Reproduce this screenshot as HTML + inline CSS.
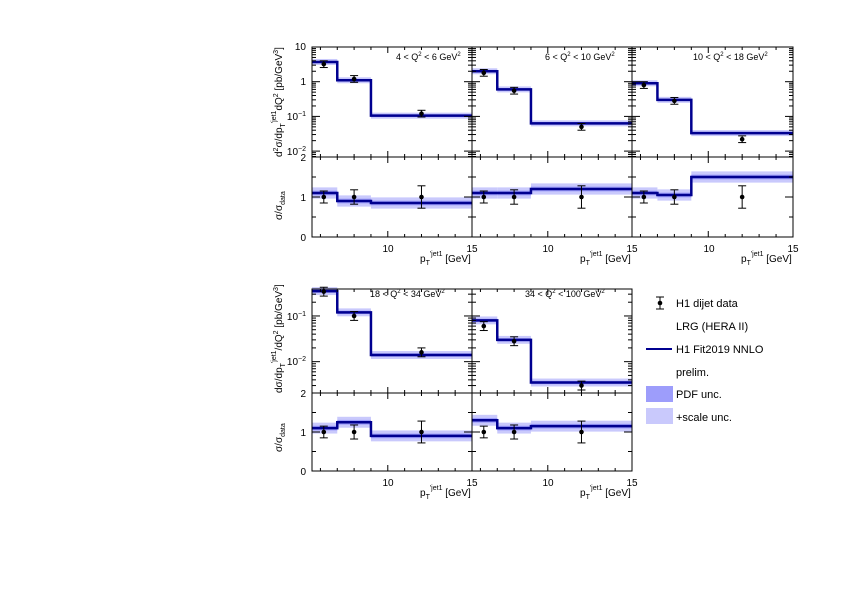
<!DOCTYPE html>
<html><head><meta charset="utf-8"><style>
body{margin:0;background:#fff;}
svg{display:block;font-family:"Liberation Sans",sans-serif;}
text{fill:#000;}
</style></head><body>
<svg id="s" width="842" height="595" viewBox="0 0 842 595" xmlns="http://www.w3.org/2000/svg">
<g id="g"></g>
<g font-size="10">
<!-- top row tick labels -->
<text x="306" y="50" text-anchor="end">10</text>
<text x="306" y="85" text-anchor="end">1</text>
<text x="306" y="120" text-anchor="end">10<tspan dy="-4" font-size="7">−1</tspan></text>
<text x="306" y="155" text-anchor="end">10<tspan dy="-4" font-size="7">−2</tspan></text>
<text x="306" y="161" text-anchor="end">2</text>
<text x="306" y="201" text-anchor="end">1</text>
<text x="306" y="241" text-anchor="end">0</text>
<text x="388" y="252" text-anchor="middle">10</text>
<text x="472" y="252" text-anchor="middle">15</text>
<text x="548" y="252" text-anchor="middle">10</text>
<text x="632" y="252" text-anchor="middle">15</text>
<text x="709" y="252" text-anchor="middle">10</text>
<text x="793" y="252" text-anchor="middle">15</text>
<!-- bottom row -->
<text x="306" y="320" text-anchor="end">10<tspan dy="-4" font-size="7">−1</tspan></text>
<text x="306" y="365" text-anchor="end">10<tspan dy="-4" font-size="7">−2</tspan></text>
<text x="306" y="397" text-anchor="end">2</text>
<text x="306" y="436" text-anchor="end">1</text>
<text x="306" y="475" text-anchor="end">0</text>
<text x="388" y="486" text-anchor="middle">10</text>
<text x="472" y="486" text-anchor="middle">15</text>
<text x="548" y="486" text-anchor="middle">10</text>
<text x="632" y="486" text-anchor="middle">15</text>
</g>
<g font-size="9">
<text x="396" y="60">4 &lt; Q<tspan dy="-4" font-size="6">2</tspan><tspan dy="4"> &lt; 6 GeV</tspan><tspan dy="-4" font-size="6">2</tspan></text>
<text x="545" y="60">6 &lt; Q<tspan dy="-4" font-size="6">2</tspan><tspan dy="4"> &lt; 10 GeV</tspan><tspan dy="-4" font-size="6">2</tspan></text>
<text x="693" y="60">10 &lt; Q<tspan dy="-4" font-size="6">2</tspan><tspan dy="4"> &lt; 18 GeV</tspan><tspan dy="-4" font-size="6">2</tspan></text>
<text x="370" y="297">18 &lt; Q<tspan dy="-4" font-size="6">2</tspan><tspan dy="4"> &lt; 34 GeV</tspan><tspan dy="-4" font-size="6">2</tspan></text>
<text x="525" y="297">34 &lt; Q<tspan dy="-4" font-size="6">2</tspan><tspan dy="4"> &lt; 100 GeV</tspan><tspan dy="-4" font-size="6">2</tspan></text>
</g>
<g font-size="10">
<text x="420" y="262">p<tspan dy="3" font-size="7">T</tspan><tspan dy="-9" font-size="7">'jet1</tspan><tspan dy="6"> [GeV]</tspan></text>
<text x="580" y="262">p<tspan dy="3" font-size="7">T</tspan><tspan dy="-9" font-size="7">'jet1</tspan><tspan dy="6"> [GeV]</tspan></text>
<text x="741" y="262">p<tspan dy="3" font-size="7">T</tspan><tspan dy="-9" font-size="7">'jet1</tspan><tspan dy="6"> [GeV]</tspan></text>
<text x="420" y="496">p<tspan dy="3" font-size="7">T</tspan><tspan dy="-9" font-size="7">'jet1</tspan><tspan dy="6"> [GeV]</tspan></text>
<text x="580" y="496">p<tspan dy="3" font-size="7">T</tspan><tspan dy="-9" font-size="7">'jet1</tspan><tspan dy="6"> [GeV]</tspan></text>
<text transform="translate(282,157) rotate(-90)" x="0" y="0">d<tspan dy="-4" font-size="7">2</tspan><tspan dy="4">σ/dp</tspan><tspan dy="3" font-size="7">T</tspan><tspan dy="-9" font-size="7">'jet1</tspan><tspan dy="6">dQ</tspan><tspan dy="-4" font-size="7">2</tspan><tspan dy="4"> [pb/GeV</tspan><tspan dy="-4" font-size="7">3</tspan><tspan dy="4">]</tspan></text>
<text transform="translate(282,220) rotate(-90)">σ/σ<tspan dy="3" font-size="7">data</tspan></text>
<text transform="translate(282,393) rotate(-90)">dσ/dp<tspan dy="3" font-size="7">T</tspan><tspan dy="-9" font-size="7">'jet1</tspan><tspan dy="6">/dQ</tspan><tspan dy="-4" font-size="7">2</tspan><tspan dy="4"> [pb/GeV</tspan><tspan dy="-4" font-size="7">3</tspan><tspan dy="4">]</tspan></text>
<text transform="translate(282,452) rotate(-90)">σ/σ<tspan dy="3" font-size="7">data</tspan></text>
</g>
<!-- legend -->
<g font-size="11">
<line x1="660" y1="297" x2="660" y2="309" stroke="#000"/><line x1="656" y1="297" x2="664" y2="297" stroke="#000"/><line x1="656" y1="309" x2="664" y2="309" stroke="#000"/><circle cx="660" cy="303" r="2.3" fill="#000"/>
<text x="676" y="307">H1 dijet data</text>
<text x="676" y="330">LRG (HERA II)</text>
<line x1="646" y1="349" x2="672" y2="349" stroke="#000090" stroke-width="2"/>
<text x="676" y="353">H1 Fit2019 NNLO</text>
<text x="676" y="376">prelim.</text>
<rect x="646" y="386" width="27" height="16" fill="#9d9dfb"/>
<text x="676" y="398">PDF unc.</text>
<rect x="646" y="408" width="27" height="16" fill="#c9c9fc"/>
<text x="676" y="421">+scale unc.</text>
</g>
</svg>
<script>
const NS="http://www.w3.org/2000/svg",G=document.getElementById('g');
function el(t,a){const e=document.createElementNS(NS,t);for(const k in a)e.setAttribute(k,a[k]);G.appendChild(e);return e;}
const bins=[5.5,7,9,15];
function panel(x0,x1,yt,yd,yb,logTop,dec,mc,dat,rat){
 const X=v=>x0+(v-5.5)/9.5*(x1-x0);
 const YL=v=>yt+(logTop-Math.log10(v))*dec;
 const YR=v=>yb-(v/2)*(yb-yd);
 // upper bands
 for(let i=0;i<3;i++){
  el('rect',{x:X(bins[i]),width:X(bins[i+1])-X(bins[i]),y:YL(mc[i]*1.22),height:YL(mc[i]/1.22)-YL(mc[i]*1.22),fill:'#c9c9fc'});
  el('rect',{x:X(bins[i]),width:X(bins[i+1])-X(bins[i]),y:YL(mc[i]*1.09),height:YL(mc[i]/1.09)-YL(mc[i]*1.09),fill:'#9d9dfb'});
  el('rect',{x:X(bins[i]),width:X(bins[i+1])-X(bins[i]),y:YR(rat[i]+0.14),height:YR(rat[i]-0.14)-YR(rat[i]+0.14),fill:'#c9c9fc'});
  el('rect',{x:X(bins[i]),width:X(bins[i+1])-X(bins[i]),y:YR(rat[i]+0.06),height:YR(rat[i]-0.06)-YR(rat[i]+0.06),fill:'#9d9dfb'});
 }
 let p='',q='';
 for(let i=0;i<3;i++){p+=(i?'L':'M')+X(bins[i])+' '+YL(mc[i])+' L'+X(bins[i+1])+' '+YL(mc[i]);q+=(i?'L':'M')+X(bins[i])+' '+YR(rat[i])+' L'+X(bins[i+1])+' '+YR(rat[i]);}
 el('path',{d:p,stroke:'#000090','stroke-width':2.5,fill:'none'});
 el('path',{d:q,stroke:'#000090','stroke-width':2.5,fill:'none'});
 const px=[6.2,8,12],re=[0.15,0.18,0.28];
 for(let i=0;i<3;i++){
  const x=X(px[i]);let y=YL(dat[i]),e1=YL(dat[i]*1.25),e2=YL(dat[i]/1.25);
  el('line',{x1:x,x2:x,y1:e1,y2:e2,stroke:'#000'});el('line',{x1:x-4,x2:x+4,y1:e1,y2:e1,stroke:'#000'});el('line',{x1:x-4,x2:x+4,y1:e2,y2:e2,stroke:'#000'});
  el('circle',{cx:x,cy:y,r:2.3,fill:'#000'});
  y=YR(1);e1=YR(1+re[i]);e2=YR(1-re[i]);
  el('line',{x1:x,x2:x,y1:e1,y2:e2,stroke:'#000'});el('line',{x1:x-4,x2:x+4,y1:e1,y2:e1,stroke:'#000'});el('line',{x1:x-4,x2:x+4,y1:e2,y2:e2,stroke:'#000'});
  el('circle',{cx:x,cy:y,r:2.3,fill:'#000'});
 }
 // frames
 el('rect',{x:x0,y:yt,width:x1-x0,height:yb-yt,fill:'none',stroke:'#000','stroke-width':1});
 el('line',{x1:x0,x2:x1,y1:yd,y2:yd,stroke:'#000'});
 // x ticks
 for(let v=6;v<=15;v++){const x=X(v),L=(v%5==0)?6:3;
  [[yt,1],[yd,-1],[yd,1],[yb,-1]].forEach(([y,s])=>el('line',{x1:x,x2:x,y1:y,y2:y+s*L,stroke:'#000'}));}
 // log y ticks
 const lb=logTop-(yd-yt)/dec;
 for(let d=Math.floor(lb);d<=Math.ceil(logTop);d++)for(let m=1;m<10;m++){const l=d+Math.log10(m);if(l<lb||l>logTop)continue;const y=YL(Math.pow(10,l)),L=m==1?8:4;
  el('line',{x1:x0,x2:x0+L,y1:y,y2:y,stroke:'#000'});el('line',{x1:x1,x2:x1-L,y1:y,y2:y,stroke:'#000'});}
 for(let v=0;v<=2;v+=0.5){const y=YR(v),L=(v%1==0)?8:4;el('line',{x1:x0,x2:x0+L,y1:y,y2:y,stroke:'#000'});el('line',{x1:x1,x2:x1-L,y1:y,y2:y,stroke:'#000'});}
}
const T=[47,157,237,1,34.7],B=[289,393,471,-0.41,45.7];
panel(312,472,...T,[3.7,1.1,0.105],[3.2,1.2,0.12],[1.1,0.9,0.85]);
panel(472,632,...T,[2.0,0.6,0.063],[1.8,0.55,0.05],[1.1,1.1,1.2]);
panel(632,793,...T,[0.9,0.3,0.033],[0.8,0.28,0.022],[1.1,1.05,1.5]);
panel(312,472,...B,[0.35,0.12,0.014],[0.34,0.1,0.016],[1.1,1.25,0.9]);
panel(472,632,...B,[0.08,0.03,0.0035],[0.06,0.028,0.003],[1.3,1.1,1.15]);
</script>
</body></html>
